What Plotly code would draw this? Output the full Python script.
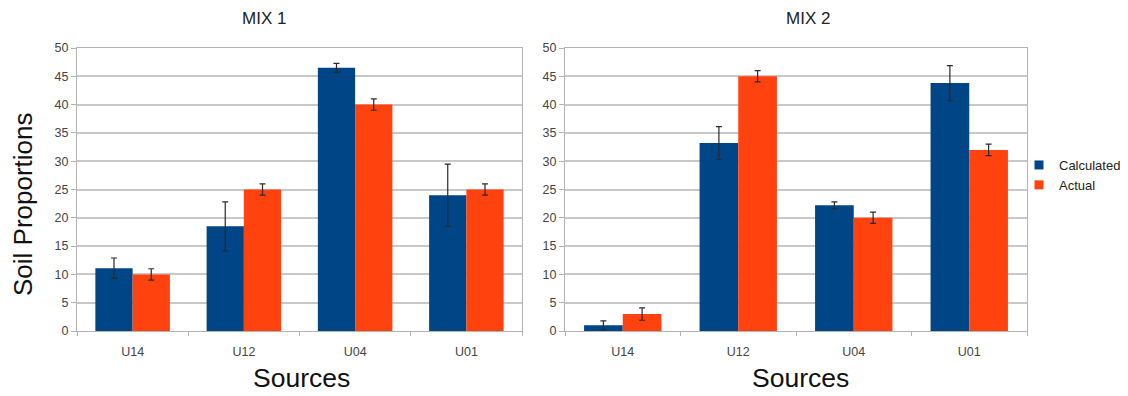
import plotly.graph_objects as go

categories = ["U14", "U12", "U04", "U01"]
mix1_calculated = [11.1, 18.5, 46.5, 24.0]
mix1_calculated_err = [1.8, 4.3, 0.8, 5.5]
mix1_actual = [10, 25, 40, 25]
mix1_actual_err = [1.0, 1.0, 1.0, 1.0]
mix2_calculated = [1.0, 33.2, 22.2, 43.8]
mix2_calculated_err = [0.8, 2.9, 0.6, 3.1]
mix2_actual = [3, 45, 20, 32]
mix2_actual_err = [1.1, 1.0, 1.0, 1.0]
yticks = [0, 5, 10, 15, 20, 25, 30, 35, 40, 45, 50]

BLUE = "#004586"
ORANGE = "#ff420e"
FONT = "Liberation Sans"

# page has an 8px body margin; figure is placed at (8, 8)
OFF = 8
W, H = 1128 - OFF, 396 - OFF
PL, PR, PT, PB = 77, 1027, 48, 331  # plot area in page pixels
L, T = PL - OFF, PT - OFF
R = W - (PR - OFF)
B = H - (PB - OFF)
pw = PR - PL
ph = PB - PT


def px_x(x):
    return (x - PL) / pw


def px_y(y):
    return (PB - y) / ph


fig = go.Figure()


def err(vals):
    return dict(type="data", array=vals, visible=True, color="#2a2a2a", thickness=1.2, width=3)


fig.add_trace(go.Bar(x=categories, y=mix1_calculated, error_y=err(mix1_calculated_err),
                     marker=dict(color=BLUE, line=dict(width=0)), name="Calculated",
                     showlegend=False, xaxis="x", yaxis="y"))
fig.add_trace(go.Bar(x=categories, y=mix1_actual, error_y=err(mix1_actual_err),
                     marker=dict(color=ORANGE, line=dict(width=0)), name="Actual",
                     showlegend=False, xaxis="x", yaxis="y"))
fig.add_trace(go.Bar(x=categories, y=mix2_calculated, error_y=err(mix2_calculated_err),
                     marker=dict(color=BLUE, line=dict(width=0)), name="Calculated",
                     showlegend=False, xaxis="x2", yaxis="y2"))
fig.add_trace(go.Bar(x=categories, y=mix2_actual, error_y=err(mix2_actual_err),
                     marker=dict(color=ORANGE, line=dict(width=0)), name="Actual",
                     showlegend=False, xaxis="x2", yaxis="y2"))
# legend entries with small square keys
for nm, col in (("Calculated", BLUE), ("Actual", ORANGE)):
    fig.add_trace(go.Scatter(x=[None], y=[None], mode="markers", name=nm,
                             marker=dict(symbol="square", size=9, color=col),
                             xaxis="x2", yaxis="y2"))

xax = dict(showgrid=False, showline=True, linecolor="#b3b3b3", linewidth=1, mirror=True,
           ticks="outside", tickson="boundaries", ticklen=4, tickcolor="#b3b3b3",
           tickfont=dict(family=FONT, size=12.5, color="#444"), automargin=False,
           ticklabelstandoff=9)
yax = dict(range=[0, 50], tickvals=yticks, showgrid=True, gridcolor="#c8c8c8", gridwidth=1.5,
           showline=True, linecolor="#b3b3b3", linewidth=1, mirror=True,
           ticks="outside", ticklen=5, tickcolor="#b3b3b3",
           tickfont=dict(family=FONT, size=12.5, color="#444"), zeroline=False, automargin=False)

fig.update_layout(
    width=W, height=H,
    margin=dict(l=L, r=R, t=T, b=B, autoexpand=False, pad=0),
    paper_bgcolor="white", plot_bgcolor="white",
    barmode="group", bargap=0.33, bargroupgap=0,
    font=dict(family=FONT),
    xaxis=dict(domain=[0, px_x(522)], anchor="y", **xax),
    xaxis2=dict(domain=[px_x(565), 1.0], anchor="y2", **xax),
    yaxis=dict(domain=[0, 1], anchor="x", **yax),
    yaxis2=dict(domain=[0, 1], anchor="x2", **yax),
    legend=dict(x=px_x(1019), y=px_y(150), xanchor="left", yanchor="top",
                font=dict(family=FONT, size=13, color="#222"),
                itemwidth=30, tracegroupgap=0, bgcolor="rgba(0,0,0,0)"),
    annotations=[
        dict(text="MIX 1", x=px_x(264), y=px_y(19),
             font=dict(family=FONT, size=17, color="#222")),
        dict(text="MIX 2", x=px_x(808), y=px_y(19),
             font=dict(family=FONT, size=17, color="#222")),
        dict(text="Sources", x=px_x(301), y=px_y(378),
             font=dict(family=FONT, size=26.5, color="#111")),
        dict(text="Sources", x=px_x(800), y=px_y(378),
             font=dict(family=FONT, size=26.5, color="#111")),
        dict(text="Soil Proportions", x=px_x(23), y=px_y(204), textangle=-90,
             font=dict(family=FONT, size=26, color="#111")),
    ],
)
for a in fig.layout.annotations:
    a.xref = "paper"
    a.yref = "paper"
    a.xanchor = "center"
    a.yanchor = "middle"
    a.showarrow = False

fig.write_html("out.html")
